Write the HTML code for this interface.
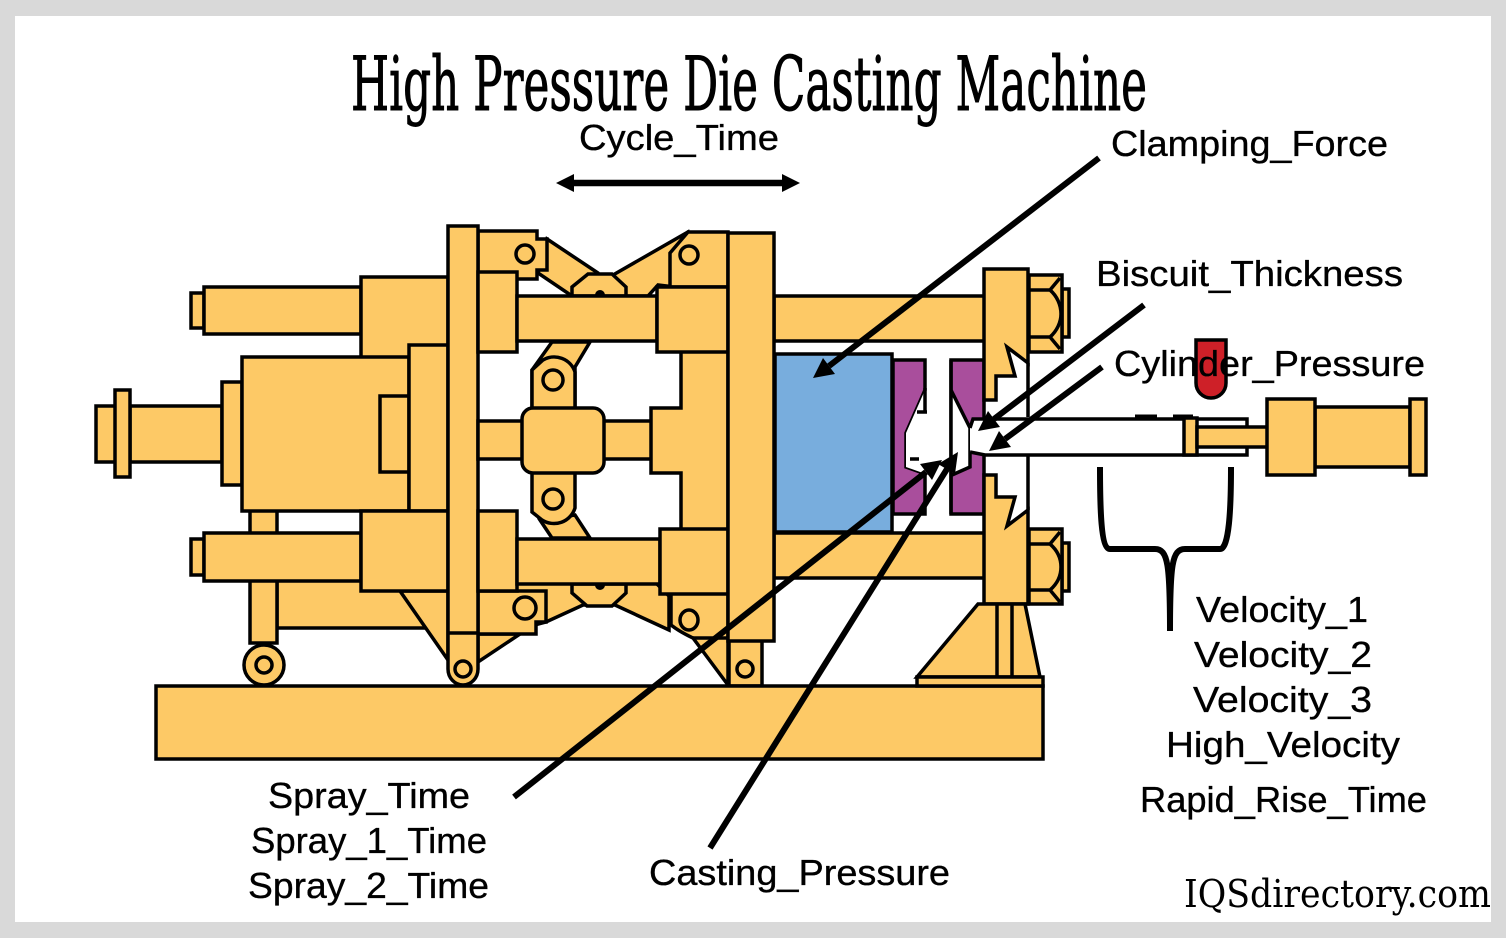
<!DOCTYPE html>
<html><head><meta charset="utf-8"><style>
html,body{margin:0;padding:0;background:#d9d9d9}
svg{display:block}
.f{fill:#FDC966;stroke:#000;stroke-width:3.5;stroke-linejoin:miter}
.n{fill:none;stroke:#000;stroke-width:3.5}
.p{fill:#A94E9C;stroke:#000;stroke-width:3.5}
.t{font-family:"Liberation Sans",sans-serif;font-size:36px;fill:#000;stroke:#000;stroke-width:.35}
.a{stroke:#000;stroke-width:6;fill:none}
</style></head><body>
<svg width="1506" height="938" viewBox="0 0 1506 938" xmlns="http://www.w3.org/2000/svg">
<rect width="1506" height="938" fill="#d9d9d9"/>
<rect x="15" y="16" width="1476" height="906" fill="#fff"/>

<!-- title -->
<text x="351" y="110" font-family="'DejaVu Serif',serif" font-size="75" stroke="#000" stroke-width="1" textLength="796" lengthAdjust="spacingAndGlyphs">High Pressure Die Casting Machine</text>

<!-- right rods -->
<rect class="f" x="774" y="296" width="212" height="45"/>
<rect class="f" x="774" y="533" width="212" height="45"/>

<!-- left assembly -->
<rect class="f" x="96" y="406" width="20" height="56"/>
<rect class="f" x="130" y="406" width="92" height="56"/>
<rect class="f" x="115" y="390" width="15" height="87"/>
<rect class="f" x="277" y="575" width="160" height="53"/>
<rect class="f" x="250" y="505" width="27" height="138"/>
<circle class="f" cx="264" cy="665" r="20"/>
<circle class="f" cx="264" cy="665" r="8"/>
<rect class="f" x="222" y="382" width="20" height="103"/>
<rect class="f" x="191" y="293" width="13" height="35"/>
<rect class="f" x="204" y="287" width="157" height="47"/>
<rect class="f" x="361" y="277" width="87" height="85"/>
<rect class="f" x="242" y="357" width="167" height="154"/>
<rect class="f" x="380" y="396" width="29" height="76"/>
<rect class="f" x="409" y="345" width="39" height="166"/>
<rect class="f" x="191" y="539" width="13" height="36"/>
<rect class="f" x="204" y="533" width="157" height="48"/>
<polygon class="f" points="400,591 448,660 448,591"/>
<rect class="f" x="361" y="511" width="87" height="80"/>

<!-- top toggle links -->
<polygon class="f" points="547,239 598,273 612,296 572,296 538,273"/>
<polygon class="f" points="613,275 688,232 700,290 658,285 648,296 620,296"/>
<polygon class="f" points="688,232 728,232 728,287 670,287 670,253"/>
<circle class="f" cx="689" cy="255" r="9"/>
<polygon class="f" points="572,296 572,287 588,274 612,274 626,287 626,296"/>
<circle cx="600" cy="295" r="5" fill="#000"/>
<polygon class="f" points="478,231 537,231 537,239 547,239 547,270 537,270 537,279 478,279"/>
<circle class="f" cx="525" cy="254" r="9"/>

<!-- lower toggle links -->
<polygon class="f" points="517,580 653,580 669,596 669,630 615,605 583,605 546,622 478,640"/>
<polygon class="f" points="572,584 572,593 587,606 612,606 626,593 626,584"/>
<circle cx="600" cy="585" r="5" fill="#000"/>
<path class="f" d="M671 590H728V685L693 638Q680 632 671 625Z"/>
<line class="n" x1="693" y1="638" x2="728" y2="638"/>
<ellipse class="f" cx="689" cy="620" rx="9" ry="10"/>
<polygon class="f" points="478,634 478,662 520,634"/>
<polygon class="f" points="478,591 546,591 546,622 536,622 536,634 478,634"/>
<circle class="f" cx="525" cy="608" r="11"/>

<!-- center arms -->
<polygon class="f" points="552,342 590,342 575,367 575,410 532,410 532,370"/>
<path class="f" d="M532 410V370L543 360A22 22 0 0 1 575 372V410Z"/>
<circle class="f" cx="553" cy="380" r="10"/>
<polygon class="f" points="540,520 552,538 590,538 575,515"/>
<path class="f" d="M532 470V512L542 520A22 22 0 0 0 575 508V470Z"/>
<circle class="f" cx="553" cy="499" r="10"/>

<!-- plate left -->
<path class="f" d="M448 226H478V669A15 16 0 0 1 448 669Z"/>
<line class="n" x1="448" y1="633" x2="478" y2="633"/>
<circle class="f" cx="463" cy="669" r="8"/>

<rect class="f" x="478" y="421" width="50" height="38"/>
<rect class="f" x="600" y="421" width="55" height="38"/>
<rect class="f" x="478" y="272" width="39" height="80"/>
<rect class="f" x="478" y="511" width="39" height="80"/>
<rect class="f" x="517" y="296" width="140" height="45"/>
<rect class="f" x="517" y="539" width="143" height="45"/>
<rect class="f" x="522" y="408" width="82" height="65" rx="11"/>

<path class="f" d="M681 350V408H651V473H681V530H728V350Z"/>
<rect class="f" x="657" y="287" width="71" height="65"/>
<rect class="f" x="660" y="529" width="68" height="65"/>
<rect class="f" x="729" y="638" width="33" height="48"/>
<circle class="f" cx="745" cy="669" r="8"/>
<rect class="f" x="728" y="233" width="46" height="408"/>
<!-- base -->
<rect class="f" x="156" y="686" width="887" height="73"/>

<!-- mould -->
<rect x="775" y="354" width="117" height="178" fill="#78ADDD" stroke="#000" stroke-width="3.5"/>
<path d="M1002 345H1028V417H986V400H995V376H1015L1007 347ZM986 456H1028V510L1007 526L1015 497H995V475H986Z" fill="#fff"/>
<polygon class="p" points="893,360 925,360 925,390 906,433 906,467 923,473 925,473 925,514 893,514"/>
<path d="M925 390L906 433V467L923 473H927V414H925Z" fill="#fff"/>
<path class="n" d="M917 412H927M925 388V412M910 459H919"/>
<rect class="p" x="951" y="360" width="33" height="154"/>
<path d="M951 390L970 428V467L952 475Z" fill="#fff"/>
<path class="n" d="M951 360V514M951 390L970 428V467L952 475"/>
<!-- sleeve -->
<polygon points="973,419 1186,419 1186,455 985,455 970,452 970,428" fill="#fff"/>
<path class="n" d="M970 428L973 419H1247V455H985L970 452"/>
<line stroke="#000" stroke-width="5" x1="1135" y1="417" x2="1157" y2="417"/>
<line stroke="#000" stroke-width="5" x1="1173" y1="417" x2="1193" y2="417"/>
<rect class="f" x="1184" y="418" width="13" height="37"/>
<rect class="f" x="1197" y="427" width="72" height="20"/>

<!-- right plate -->
<path class="f" d="M984 269H1028V363L1007 347L1015 376H996V400H984Z"/>
<path class="f" d="M984 475H996V497H1015L1007 526L1028 510V604H984Z"/>
<path class="n" d="M1028 363V417M1028 456V510"/>
<polygon class="f" points="978,604 917,677 1040,677 1025,604"/>
<path class="n" d="M997 604V677M1012 604V677"/>
<rect class="f" x="917" y="677" width="126" height="9"/>
<!-- nuts -->
<rect class="f" x="1062" y="289" width="7" height="48"/>
<rect class="f" x="1029" y="275" width="33" height="77"/>
<path class="n" d="M1029 290H1050C1057 296 1061 305 1061 314C1061 322 1057 331 1050 337H1029M1050 290L1060 278M1050 337L1060 349"/>
<rect class="f" x="1062" y="543" width="7" height="48"/>
<rect class="f" x="1029" y="529" width="33" height="75"/>
<path class="n" d="M1029 544H1050C1057 550 1061 558 1061 567C1061 576 1057 584 1050 590H1029M1050 544L1060 532M1050 590L1060 602"/>

<!-- cylinder -->
<rect class="f" x="1315" y="407" width="95" height="60"/>
<rect class="f" x="1267" y="399" width="48" height="76"/>
<rect class="f" x="1410" y="399" width="16" height="76"/>
<path d="M1196 340H1226V383A15 15 0 0 1 1196 383Z" fill="#CE2028" stroke="#000" stroke-width="3.5"/>

<!-- connectors -->
<line class="a" x1="1099" y1="158" x2="829" y2="366"/>
<polygon points="813,378 823,358 835,374"/>
<line class="a" x1="1144" y1="305" x2="994" y2="419"/>
<polygon points="978,431 988,411 1000,427"/>
<line class="a" x1="1102" y1="367" x2="1005" y2="439"/>
<polygon points="989,451 999,431 1011,447"/>
<line class="a" x1="514" y1="797" x2="926" y2="472"/>
<polygon points="942,460 932,480 920,464"/>
<line class="a" x1="710" y1="848" x2="947" y2="469"/>
<polygon points="958,452 955,474 938,464"/>
<line x1="570" y1="183" x2="786" y2="183" stroke="#000" stroke-width="6.5"/>
<polygon points="556,183 574,174 574,192"/>
<polygon points="800,183 782,174 782,192"/>
<path d="M1100 467C1100 510 1101 549 1110 549H1155C1168 549 1170 565 1170 631C1170 565 1172 549 1185 549H1220C1229 549 1231 510 1231 467" fill="none" stroke="#000" stroke-width="6"/>

<!-- labels -->
<text class="t" x="579" y="150" textLength="200" lengthAdjust="spacingAndGlyphs">Cycle_Time</text>
<text class="t" x="1111" y="156" textLength="277" lengthAdjust="spacingAndGlyphs">Clamping_Force</text>
<text class="t" x="1096" y="286" textLength="307" lengthAdjust="spacingAndGlyphs">Biscuit_Thickness</text>
<text class="t" x="1114" y="376" textLength="311" lengthAdjust="spacingAndGlyphs">Cylinder_Pressure</text>
<text class="t" x="1196" y="622" textLength="172" lengthAdjust="spacingAndGlyphs">Velocity_1</text>
<text class="t" x="1194" y="667" textLength="178" lengthAdjust="spacingAndGlyphs">Velocity_2</text>
<text class="t" x="1193" y="712" textLength="179" lengthAdjust="spacingAndGlyphs">Velocity_3</text>
<text class="t" x="1166" y="757" textLength="234" lengthAdjust="spacingAndGlyphs">High_Velocity</text>
<text class="t" x="1140" y="812" textLength="287" lengthAdjust="spacingAndGlyphs">Rapid_Rise_Time</text>
<text class="t" x="268" y="808" textLength="202" lengthAdjust="spacingAndGlyphs">Spray_Time</text>
<text class="t" x="251" y="853" textLength="236" lengthAdjust="spacingAndGlyphs">Spray_1_Time</text>
<text class="t" x="248" y="898" textLength="241" lengthAdjust="spacingAndGlyphs">Spray_2_Time</text>
<text class="t" x="649" y="885" textLength="301" lengthAdjust="spacingAndGlyphs">Casting_Pressure</text>
<text x="1184" y="907" font-family="'DejaVu Serif',serif" font-size="38" textLength="307" lengthAdjust="spacingAndGlyphs">IQSdirectory.com</text>
</svg>
</body></html>
